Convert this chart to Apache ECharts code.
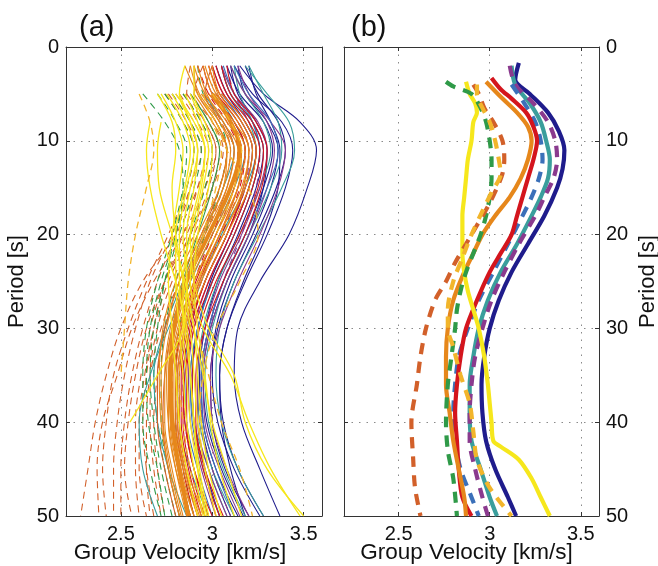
<!DOCTYPE html>
<html>
<head>
<meta charset="utf-8">
<script src="https://cdn.jsdelivr.net/npm/echarts@6.0.0/dist/echarts.min.js"></script>
<style>
  html, body { margin: 0; padding: 0; background: #fff; }
  #chart { width: 658px; height: 566px; }
</style>
</head>
<body>
<div id="chart"></div>
<script>
// period grid shared by the thin curves of panel (a)
var periodsA = [2, 5, 8, 11, 15, 20, 25, 30, 35, 40, 45, 50];
var velTicks = [2.5, 3, 3.5];

// panel (a): group velocity at each period of periodsA (null = no value)
var navyA = [
  [3.15, 3.28, 3.48, 3.57, 3.52, 3.42, 3.26, 3.14, 3.12, 3.16, 3.26, 3.37],
  [3.12, 3.22, 3.38, 3.44, 3.40, 3.30, 3.18, 3.08, 3.04, 3.06, 3.14, 3.28],
  [3.18, 3.25, 3.36, 3.40, 3.35, 3.24, 3.12, 3.03, 2.99, 3.00, 3.07, 3.20],
  [3.08, 3.15, 3.28, 3.33, 3.28, 3.18, 3.06, 2.98, 2.94, 2.95, 3.02, 3.14],
  [3.14, 3.18, 3.30, 3.36, 3.32, 3.22, 3.10, 3.02, 3.00, 3.03, 3.12, 3.26],
  [3.05, 3.10, 3.22, 3.28, 3.24, 3.14, 3.03, 2.96, 2.93, 2.94, 3.00, 3.10],
  [3.20, 3.24, 3.32, 3.37, 3.36, 3.28, 3.17, 3.08, 3.04, 3.05, 3.10, 3.18],
  [3.10, 3.14, 3.24, 3.30, 3.28, 3.20, 3.08, 2.99, 2.95, 2.97, 3.05, 3.17],
  [3.02, 3.08, 3.18, 3.24, 3.20, 3.10, 2.99, 2.92, 2.89, 2.90, 2.96, 3.04]
];
var tealA = [
  [3.18, 3.30, 3.42, 3.45, 3.38, 3.25, 3.12, 3.04, 3.02, 3.05, 3.14, 3.28],
  [3.20, 3.28, 3.36, 3.38, 3.32, 3.20, 3.08, 3.00, 2.96, 2.98, 3.06, 3.18],
  [3.10, 3.18, 3.28, 3.32, 3.26, 3.15, 3.03, 2.95, 2.92, 2.93, 3.00, 3.12],
  [3.05, 3.10, 3.20, 3.24, 3.18, 3.05, 2.94, 2.86, 2.82, 2.82, 2.88, 2.98],
  [null, 3.02, 3.12, 3.18, 3.12, 3.00, 2.88, 2.76, 2.66, 2.60, 2.62, 2.70],
  [3.12, 3.15, 3.22, 3.26, 3.22, 3.12, 3.00, 2.92, 2.88, 2.90, 2.98, 3.08],
  [null, 2.95, 3.06, 3.12, 3.06, 2.95, 2.84, 2.74, 2.68, 2.70, 2.76, 2.86]
];
var purpleA = [
  [3.10, 3.18, 3.32, 3.40, 3.36, 3.26, 3.14, 3.04, 2.99, 3.00, 3.08, 3.20],
  [3.05, 3.12, 3.25, 3.30, 3.26, 3.16, 3.04, 2.96, 2.92, 2.92, 2.98, 3.08],
  [3.00, 3.06, 3.18, 3.24, 3.20, 3.10, 2.98, 2.90, 2.87, 2.88, 2.94, 3.02],
  [3.14, 3.20, 3.30, 3.34, 3.30, 3.20, 3.08, 2.99, 2.95, 2.96, 3.04, 3.15]
];
var purpleDashA = [
  [null, 3.02, 3.14, 3.20, 3.18, 3.08, 2.96, 2.88, 2.84, 2.85, 2.90, 2.98],
  [3.08, 3.12, 3.20, 3.26, 3.24, 3.16, 3.06, 2.98, 2.94, 2.94, 3.00, 3.10]
];
var blueA = [
  [3.12, 3.20, 3.32, 3.36, 3.30, 3.18, 3.06, 2.98, 2.94, 2.95, 3.02, 3.12],
  [3.06, 3.12, 3.22, 3.26, 3.22, 3.12, 3.00, 2.92, 2.88, 2.89, 2.95, 3.04],
  [null, 3.05, 3.16, 3.22, 3.18, 3.08, 2.96, 2.88, 2.85, 2.86, 2.92, 3.00]
];
var redA = [
  [3.02, 3.08, 3.20, 3.26, 3.22, 3.12, 3.00, 2.90, 2.86, 2.86, 2.90, 2.98],
  [2.98, 3.04, 3.16, 3.22, 3.18, 3.08, 2.96, 2.87, 2.83, 2.83, 2.87, 2.94],
  [3.05, 3.10, 3.22, 3.28, 3.25, 3.15, 3.02, 2.93, 2.89, 2.90, 2.95, 3.04],
  [2.95, 3.00, 3.12, 3.18, 3.14, 3.04, 2.93, 2.85, 2.81, 2.81, 2.85, 2.92],
  [3.00, 3.06, 3.18, 3.24, 3.20, 3.10, 2.98, 2.89, 2.85, 2.84, 2.88, 2.96],
  [null, 2.98, 3.10, 3.16, 3.12, 3.02, 2.91, 2.83, 2.80, 2.80, 2.84, 2.90],
  [3.08, 3.12, 3.24, 3.30, 3.27, 3.18, 3.06, 2.96, 2.91, 2.91, 2.96, 3.06],
  [null, 3.02, 3.14, 3.20, 3.17, 3.08, 2.96, 2.88, 2.84, 2.85, 2.90, 3.00]
];
var redDashA = [
  [null, 3.00, 3.12, 3.18, 3.15, 3.05, 2.94, 2.86, 2.82, 2.82, 2.86, 2.92],
  [2.92, 2.98, 3.08, 3.14, 3.10, 3.00, 2.90, 2.82, 2.78, 2.78, 2.82, 2.88]
];
var orangeA = [
  [2.95, 3.00, 3.12, 3.20, 3.16, 3.04, 2.92, 2.83, 2.79, 2.79, 2.83, 2.90],
  [2.90, 2.96, 3.08, 3.16, 3.12, 3.00, 2.88, 2.80, 2.76, 2.76, 2.80, 2.88],
  [3.00, 3.04, 3.16, 3.22, 3.18, 3.06, 2.94, 2.85, 2.81, 2.81, 2.85, 2.93],
  [2.88, 2.93, 3.04, 3.12, 3.08, 2.96, 2.85, 2.78, 2.75, 2.76, 2.80, 2.86],
  [null, 2.98, 3.10, 3.18, 3.14, 3.02, 2.90, 2.82, 2.78, 2.78, 2.82, 2.90],
  [2.92, 2.97, 3.06, 3.14, 3.12, 3.02, 2.90, 2.81, 2.77, 2.77, 2.81, 2.87],
  [null, 2.90, 3.00, 3.08, 3.06, 2.95, 2.84, 2.77, 2.74, 2.74, 2.78, 2.84],
  [2.96, 3.02, 3.14, 3.20, 3.17, 3.06, 2.93, 2.84, 2.80, 2.80, 2.85, 2.94],
  [null, 2.94, 3.04, 3.10, 3.06, 2.94, 2.82, 2.75, 2.72, 2.73, 2.77, 2.83],
  [2.85, 2.92, 3.02, 3.08, 3.04, 2.92, 2.80, 2.73, 2.71, 2.72, 2.76, 2.82],
  [null, 3.05, 3.18, 3.24, 3.20, 3.08, 2.96, 2.86, 2.82, 2.82, 2.86, 2.96],
  [2.98, 3.03, 3.10, 3.16, 3.14, 3.04, 2.92, 2.82, 2.78, 2.79, 2.84, 2.92]
];
var orangeThickA = [
  [null, 3.00, 3.10, 3.15, 3.10, 2.98, 2.86, 2.79, 2.77, 2.78, 2.82, 2.87]
];
var yellowA = [
  [null, null, 2.72, 2.70, 2.71, 2.78, 2.85, 2.90, 2.92, 2.94, 2.98, 3.05],
  [null, 2.70, 2.78, 2.80, 2.78, 2.80, 2.84, 2.88, 2.90, 2.92, 2.96, 3.02],
  [null, 2.78, 2.86, 2.90, 2.86, 2.82, 2.82, 2.85, 2.88, 2.90, 2.93, 2.98],
  [2.85, 2.82, 2.88, 2.92, 2.90, 2.86, 2.86, 2.90, 2.95, 3.00, 3.08, 3.16],
  [null, 2.72, 2.80, 2.84, 2.82, 2.78, 2.76, 2.78, 2.80, 2.82, 2.86, 2.92],
  [null, 2.80, 2.90, 2.96, 2.94, 2.88, 2.84, 2.84, 2.86, 2.88, 2.92, 2.97],
  [null, 2.88, 2.94, 2.98, 2.95, 2.90, 2.88, 2.95, 3.10, 3.20, 3.32, 3.48],
  [null, 2.85, 2.92, 2.96, 2.93, 2.88, 2.90, 2.98, 3.12, 3.18, 3.30, 3.50],
  [null, 2.82, 2.88, 2.92, 2.88, 2.84, 2.86, 2.84, 2.70, 2.55, null, null],
  [null, 2.75, 2.84, 2.88, 2.85, 2.80, 2.80, 2.82, 2.84, 2.86, 2.90, 2.95],
  [2.90, 2.90, 2.96, 3.00, 2.98, 2.92, 2.90, 2.92, 2.96, 2.99, 3.04, 3.12],
  [null, null, 2.66, 2.64, 2.66, 2.72, 2.80, 2.86, 2.88, 2.90, 2.92, 2.96]
];
var goldDashA = [
  [null, 2.60, 2.66, 2.68, 2.64, 2.58, 2.54, 2.52, 2.50, null, null, null],
  [null, 2.95, 3.00, 3.05, 3.02, 2.95, 2.90, 2.92, 2.98, 3.05, 3.15, 3.22],
  [null, 3.00, 3.10, 3.16, 3.12, 3.02, 2.92, 2.85, 2.82, 2.84, 2.88, 2.95],
  [null, 2.92, 3.02, 3.08, 3.20, 3.25, 3.15, 3.02, 2.95, 2.93, 2.96, 3.02]
];
var greenDashA = [
  [null, 2.62, 2.74, 2.82, 2.84, 2.80, 2.72, 2.66, 2.64, 2.65, 2.70, 2.74],
  [null, 2.78, 2.88, 2.94, 2.90, 2.82, 2.74, 2.68, 2.66, 2.68, 2.72, 2.78],
  [null, 2.70, 2.80, 2.86, 2.84, 2.78, 2.70, 2.64, 2.62, 2.62, 2.66, 2.72],
  [null, 2.84, 2.94, 3.00, 2.96, 2.88, 2.80, 2.74, 2.72, 2.72, 2.76, 2.82],
  [null, 2.74, 2.84, 2.90, 2.86, 2.80, 2.74, 2.70, 2.68, 2.70, 2.74, 2.80],
  [2.92, 2.95, 3.04, 3.08, 3.04, 2.96, 2.88, 2.82, 2.80, 2.80, 2.84, 2.90]
];
var greenA = [
  [null, 2.88, 2.98, 3.04, 3.00, 2.92, 2.84, 2.79, 2.77, 2.78, 2.82, 2.88]
];
var rustDashA = [
  [null, 2.82, 2.92, 2.98, 2.92, 2.80, 2.62, 2.50, 2.42, 2.36, 2.32, 2.28],
  [null, 2.86, 2.96, 3.02, 2.96, 2.84, 2.68, 2.56, 2.48, 2.40, 2.37, 2.38],
  [null, 2.78, 2.88, 2.94, 2.88, 2.78, 2.66, 2.58, 2.52, 2.48, 2.46, 2.46],
  [2.95, 2.90, 3.00, 3.06, 3.00, 2.88, 2.74, 2.64, 2.58, 2.54, 2.52, 2.56],
  [null, 2.84, 2.94, 3.00, 2.96, 2.86, 2.74, 2.66, 2.61, 2.58, 2.58, 2.60],
  [null, 2.76, 2.86, 2.92, 2.88, 2.80, 2.70, 2.62, 2.56, 2.52, 2.50, 2.50],
  [null, 2.92, 3.02, 3.08, 3.04, 2.94, 2.82, 2.72, 2.66, 2.64, 2.64, 2.66],
  [2.88, 2.86, 2.96, 3.02, 2.98, 2.88, 2.76, 2.68, 2.63, 2.60, 2.60, 2.64],
  [null, 2.80, 2.90, 2.96, 2.92, 2.84, 2.74, 2.68, 2.64, 2.62, 2.64, 2.68],
  [null, 2.95, 3.05, 3.10, 3.06, 2.96, 2.84, 2.74, 2.70, 2.68, 2.70, 2.74],
  [null, 2.88, 2.98, 3.04, 3.00, 2.90, 2.78, 2.70, 2.66, 2.66, 2.68, 2.72],
  [null, 2.74, 2.84, 2.90, 2.86, 2.76, 2.64, 2.54, 2.46, 2.42, 2.40, 2.42]
];
var rustA = [
  [2.90, 2.92, 3.02, 3.08, 3.04, 2.94, 2.82, 2.74, 2.70, 2.70, 2.74, 2.80],
  [3.00, 2.96, 3.06, 3.12, 3.08, 2.98, 2.86, 2.78, 2.74, 2.73, 2.76, 2.82]
];

// panel (b): [period, velocity] pairs of each mean curve
var navyB = [[1.7,3.16],[3.5,3.14],[5,3.22],[7,3.32],[9,3.38],[11,3.41],[13,3.40],[15,3.37],[18,3.30],[21,3.21],[24,3.12],[27,3.05],[30,3.00],[33,2.97],[36,2.955],[39,2.96],[42,2.98],[45,3.03],[48,3.10],[50,3.145]];
var tealB = [[2,3.12],[4,3.14],[6,3.22],[8,3.28],[10,3.31],[12,3.33],[14,3.32],[16,3.28],[18,3.23],[21,3.15],[24,3.06],[27,2.99],[30,2.94],[33,2.91],[36,2.89],[39,2.89],[42,2.90],[45,2.95],[48,3.00],[50,3.04]];
var purpleB = [[2,3.11],[4,3.14],[6,3.24],[8,3.32],[10,3.36],[12,3.37],[14,3.35],[16,3.30],[18,3.25],[21,3.16],[24,3.08],[27,3.01],[30,2.96],[33,2.92],[36,2.90],[39,2.89],[42,2.89],[45,2.92],[48,2.96],[50,2.99]];
var blueB = [[4,3.12],[6,3.19],[8,3.25],[10,3.28],[12,3.29],[14,3.27],[16,3.23],[18,3.18],[21,3.10],[24,3.02],[27,2.94],[30,2.88],[33,2.83],[36,2.81],[39,2.80],[42,2.81],[45,2.84],[48,2.90],[50,2.94]];
var redB = [[3.3,3.01],[4.5,3.06],[5.5,3.12],[7,3.20],[8.5,3.24],[10,3.26],[12,3.24],[14,3.21],[16,3.18],[18,3.15],[20,3.12],[22,3.06],[24,3.00],[27,2.93],[30,2.87],[33,2.84],[36,2.82],[39,2.81],[42,2.82],[45,2.83],[48,2.85],[50,2.90]];
var orangeB = [[3.7,2.98],[5.5,3.07],[7,3.15],[8.5,3.21],[10,3.23],[12,3.21],[14,3.17],[16,3.11],[18,3.03],[20,2.96],[22,2.91],[24,2.86],[27,2.80],[30,2.77],[33,2.76],[36,2.76],[39,2.78],[42,2.80],[45,2.83],[48,2.86],[50,2.87]];
var yellowB = [[3.7,2.87],[5,2.89],[6,2.92],[7,2.93],[8,2.91],[10,2.90],[12,2.88],[14,2.87],[16,2.86],[18,2.85],[20,2.85],[22,2.85],[24,2.86],[26,2.88],[28,2.91],[30,2.94],[33,2.97],[36,2.99],[38,3.00],[40,3.01],[42,3.02],[42.6,3.06],[44,3.16],[46,3.23],[48,3.28],[50,3.33]];
var goldB = [[4,2.93],[5,2.93],[6.5,2.96],[8,3.00],[10,3.03],[12,3.05],[13.5,3.06],[15.5,3.01],[17.5,2.96],[20,2.90],[22.5,2.85],[25,2.80],[28,2.77],[30,2.77],[32,2.80],[35,2.84],[38,2.89],[41,2.91],[44,2.93],[47,3.00],[50,3.12]];
var rustB = [[4,2.91],[5,2.94],[6.5,2.97],[8,3.02],[10,3.07],[12,3.08],[13.5,3.07],[15,3.04],[17,2.99],[19,2.93],[21,2.87],[23,2.81],[25,2.76],[27,2.70],[30,2.65],[33,2.62],[36,2.60],[40,2.57],[44,2.58],[47,2.59],[50,2.62]];
var greenB = [[3.7,2.76],[4.2,2.80],[5,2.90],[6.5,2.95],[8,2.98],[10,3.00],[12,3.01],[14,3.01],[16,3.00],[18,2.98],[20,2.95],[22,2.91],[24,2.87],[26,2.84],[28,2.82],[30,2.81],[33,2.79],[36,2.77],[40,2.76],[43,2.77],[46,2.80],[50,2.82]];

var C = {
  navy: '#1f1c8c', teal: '#3a9e9c', purple: '#8a3a8e', blue: '#3b70b9',
  red: '#d4151d', orange: '#e6871b', yellow: '#f6e71c', gold: '#f2b52b',
  green: '#2f9a48', rust: '#d2602a'
};
var FONT = '"Liberation Sans", Arial, Helvetica, sans-serif';

var series = [];

function addA(rows, color, dashed, width) {
  rows.forEach(function (row) {
    var pts = [];
    row.forEach(function (v, i) { if (v !== null) pts.push([v, periodsA[i]]); });
    series.push({
      type: 'line', xAxisIndex: 0, yAxisIndex: 0, data: pts,
      smooth: 0.35, showSymbol: false, silent: true,
      lineStyle: { color: color, width: width || 1.1, type: dashed ? [7, 5] : 'solid' }
    });
  });
}

function addB(pairs, color, dashed) {
  series.push({
    type: 'line', xAxisIndex: 2, yAxisIndex: 2,
    data: pairs.map(function (p) { return [p[1], p[0]]; }),
    smooth: 0.3, showSymbol: false, silent: true,
    lineStyle: { color: color, width: 4.2, type: dashed ? [11, 8] : 'solid', cap: 'butt' }
  });
}

addA(rustDashA, C.rust, true);
addA(greenDashA, C.green, true);
addA(greenA, C.green, false);
addA(navyA, C.navy, false);
addA(tealA, C.teal, false);
addA(purpleA, C.purple, false);
addA(purpleDashA, C.purple, true);
addA(blueA, C.blue, false);
addA(redA, C.red, false);
addA(redDashA, C.red, true);
addA(rustA, C.rust, false);
addA(orangeA, C.orange, false);
addA(orangeThickA, C.orange, false, 4);
addA(yellowA, C.yellow, false, 1.3);
addA(goldDashA, C.gold, true, 1.3);

addB(navyB, C.navy, false);
addB(tealB, C.teal, false);
addB(purpleB, C.purple, true);
addB(blueB, C.blue, true);
addB(redB, C.red, false);
addB(orangeB, C.orange, false);
addB(yellowB, C.yellow, false);
addB(greenB, C.green, true);
addB(rustB, C.rust, true);
addB(goldB, C.gold, true);

function xAx(grid, pos, main, shift) {
  return {
    type: 'value', gridIndex: grid, position: pos, min: 2.2, max: 3.6,
    name: main ? 'Group Velocity [km/s]' : '', nameLocation: 'middle', nameGap: 25, nameMoveOverlap: false,
    nameTextStyle: { fontFamily: FONT, fontSize: 22.5, color: '#111', padding: [0, shift || 0, 0, 0] },
    axisLine: { show: true, onZero: false, lineStyle: { color: '#333', width: 1 } },
    axisTick: { show: true, inside: true, length: 4, customValues: velTicks, lineStyle: { color: '#333' } },
    axisLabel: { show: main, customValues: velTicks, margin: 8, fontFamily: FONT, fontSize: 20, color: '#111' },
    splitLine: main ? { show: true, customValues: velTicks, lineStyle: { color: '#8a8a8a', type: [1.5, 6], width: 1 } } : { show: false }
  };
}
function yAx(grid, pos, main) {
  return {
    type: 'value', gridIndex: grid, position: pos, min: 0, max: 50, interval: 10, inverse: true,
    name: main ? 'Period [s]' : '', nameLocation: 'middle', nameGap: 38, nameRotate: 90,
    nameTextStyle: { fontFamily: FONT, fontSize: 22, color: '#111' },
    axisLine: { show: true, onZero: false, lineStyle: { color: '#333', width: 1 } },
    axisTick: { show: true, inside: true, length: 4, lineStyle: { color: '#333' } },
    axisLabel: { show: main, margin: 7, fontFamily: FONT, fontSize: 20, color: '#111' },
    splitLine: main ? { show: true, lineStyle: { color: '#8a8a8a', type: [1.5, 6], width: 1 } } : { show: false }
  };
}

var option = {
  animation: false,
  backgroundColor: '#fff',
  title: [
    { text: '(a)', left: 74, top: 8, textStyle: { fontFamily: FONT, fontSize: 29, fontWeight: 'normal', color: '#111' } },
    { text: '(b)', left: 346, top: 8, textStyle: { fontFamily: FONT, fontSize: 29, fontWeight: 'normal', color: '#111' } }
  ],
  grid: [
    { left: 66, top: 47, width: 256, height: 469, outerBoundsMode: 'none', containLabel: false },
    { left: 344, top: 47, width: 255, height: 469, outerBoundsMode: 'none', containLabel: false }
  ],
  xAxis: [xAx(0, 'bottom', true, 28), xAx(0, 'top', false), xAx(1, 'bottom', true, 10), xAx(1, 'top', false)],
  yAxis: [yAx(0, 'left', true), yAx(0, 'right', false), yAx(1, 'right', true), yAx(1, 'left', false)],
  series: series
};

var chart = echarts.init(document.getElementById('chart'), null, { renderer: 'canvas' });
chart.setOption(option);
</script>
</body>
</html>
